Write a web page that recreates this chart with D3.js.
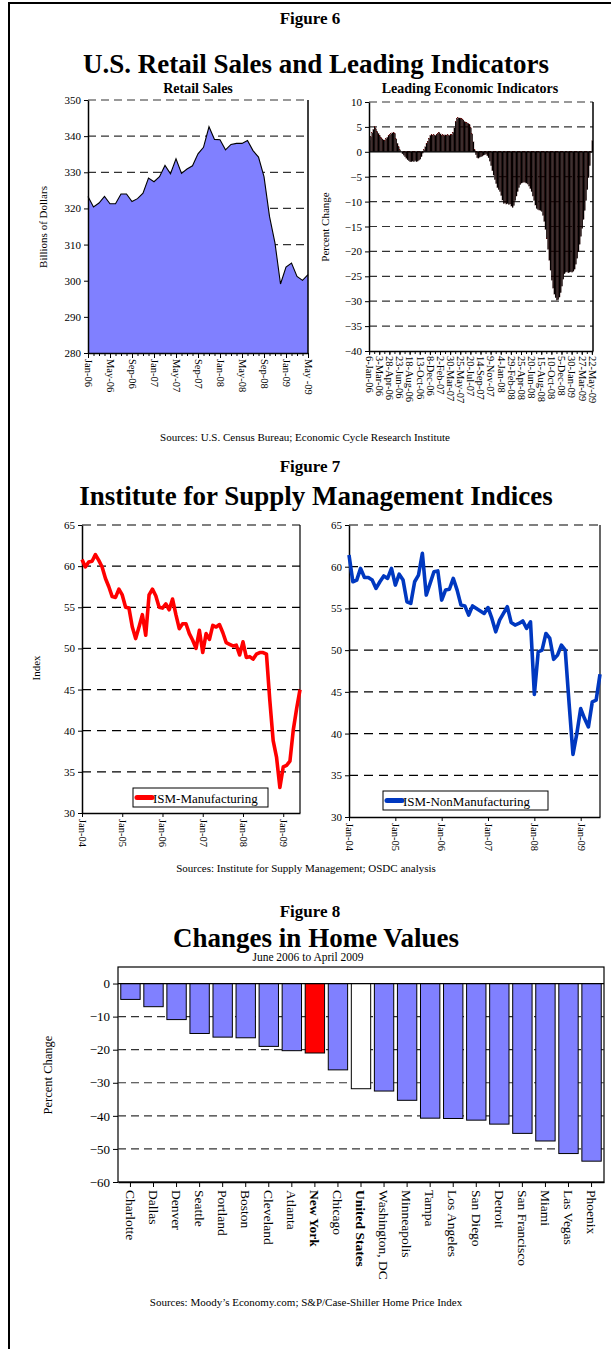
<!DOCTYPE html>
<meta charset="utf-8">
<style>
    body { margin: 0; background: #fff; }
    svg { display: block; font-family: "Liberation Serif", "Times New Roman", serif; }
    .grid line { stroke: #333; stroke-width: 1.2; stroke-dasharray: 8,5; }
    .grid7 line { stroke: #000; stroke-width: 1.2; stroke-dasharray: 9,6; }
    .axis path, .axis line { stroke: #000; }
    .axis text { fill: #000; }
</style>
<svg width="611" height="1349"></svg>
<script src="https://d3js.org/d3.v7.min.js"></script>
<script>

    // ---- Figure 6 data ----
    var retailTickLabels = ["Jan-06", "May-06", "Sep-06", "Jan-07", "May-07", "Sep-07",
        "Jan-08", "May-08", "Sep-08", "Jan-09", "May -09"];
    var retailSales = [323.3, 320.4, 321.5, 323.3, 321.3, 321.3, 324.0, 324.0, 321.9, 322.7,
        324.2, 328.4, 327.4, 328.8, 331.9, 329.6, 333.7, 329.7, 330.9, 331.8,
        335.1, 336.9, 342.6, 339.1, 339.0, 336.2, 337.7, 338.0, 338.0, 338.8,
        336.0, 334.2, 328.8, 317.8, 310.4, 299.1, 303.8, 304.9, 301.2, 300.1, 301.7];

    var leiTickLabels = ["6-Jan-06", "3-Mar-06", "28-Apr-06", "23-Jun-06", "18-Aug-06", "13-Oct-06",
        "8-Dec-06", "2-Feb-07", "30-Mar-07", "25-May-07", "20-Jul-07", "14-Sep-07", "9-Nov-07",
        "4-Jan-08", "29-Feb-08", "25-Apr-08", "20-Jun-08", "15-Aug-08", "10-Oct-08", "5-Dec-08",
        "30-Jan-09", "27-Mar-09", "22-May-09"];
    // weekly growth rate, 6-Jan-06 .. 22-May-09
    var leiValues = [2.3, 3.0, 3.8, 4.5, 5.0, 4.6, 4.1, 3.7, 3.3, 2.9, 2.6,
        2.4, 2.3, 2.6, 2.9, 3.2, 3.4, 3.6, 3.8, 3.9, 3.7,
        2.6, 1.7, 1.0, 0.4, 0.0, -0.4, -0.7, -1.0, -1.3, -1.6,
        -1.8, -2.0, -2.0, -1.9, -2.0, -1.8, -2.0, -1.9, -1.7, -1.5,
        -1.0, -0.3, 0.4, 1.0, 1.6, 2.1, 2.7, 3.3, 3.4, 3.3,
        3.4, 3.3, 3.5, 3.7, 3.9, 3.6, 3.3, 3.4, 3.3, 3.4,
        3.3, 3.4, 3.3, 3.4, 3.4, 3.9, 4.8, 6.0, 6.6, 6.8,
        6.8, 6.7, 6.6, 6.4, 6.1, 5.9, 5.8, 5.7, 5.4, 4.8,
        3.6, 2.0, 0.4, -0.6, -1.2, -1.3, -1.1, -1.0, -0.9, -0.7,
        -0.6, -0.5, -0.8, -1.2, -1.9, -2.8, -3.8, -4.7, -5.6, -6.4,
        -7.2, -7.6, -8.0, -8.8, -9.7, -10.4, -10.3, -10.5, -10.4, -10.6,
        -10.5, -10.9, -11.2, -10.8, -9.8, -8.9, -8.0, -7.2, -6.6, -6.3,
        -6.2, -6.1, -6.2, -6.3, -6.5, -6.9, -7.4, -8.0, -8.9, -9.8,
        -10.7, -11.4, -11.6, -11.7, -11.8, -12.0, -12.8, -14.0, -15.6, -17.5,
        -19.6, -21.8, -23.8, -25.8, -27.4, -28.6, -29.3, -29.8, -29.7, -29.2,
        -28.3, -27.0, -25.6, -24.5, -24.2, -24.1, -24.3, -24.2, -24.1, -24.2,
        -24.0, -23.6, -22.6, -21.4, -20.1, -18.6, -17.0, -15.4, -13.6, -11.8,
        -9.8, -7.6, -5.2, -2.8, -0.2, 2.2];

    // ---- Figure 7 data (monthly, Jan-04 .. Jun-09) ----
    var ismTickLabels = ["Jan-04", "Jan-05", "Jan-06", "Jan-07", "Jan-08", "Jan-09"];
    var ismManufacturing = [60.8, 59.9, 60.5, 60.6, 61.4, 60.7, 59.9, 58.5, 57.5, 56.3, 56.2, 57.2,
        56.5, 55.0, 54.9, 52.6, 51.2, 52.6, 54.1, 51.6, 56.5, 57.2, 56.4, 55.0,
        54.9, 55.4, 54.7, 56.0, 54.1, 52.4, 53.0, 53.0, 51.8, 51.0, 50.0, 52.2,
        49.5, 51.8, 51.1, 52.8, 52.6, 52.9, 51.9, 50.7, 50.5, 50.3, 50.4, 49.2,
        50.8, 48.9, 49.0, 48.7, 49.3, 49.5, 49.5, 49.3, 43.7, 38.8, 36.8, 33.1,
        35.6, 35.8, 36.3, 40.1, 42.7, 45.0];
    var ismNonManufacturing = [61.4, 58.2, 58.4, 59.8, 58.7, 58.7, 58.4, 57.4, 58.2, 58.9, 58.6, 59.8,
        57.8, 59.1, 58.4, 55.8, 55.6, 58.2, 59.0, 61.6, 56.6, 58.0, 59.4, 59.5,
        56.0, 57.2, 57.3, 58.6, 57.2, 55.4, 55.3, 54.2, 55.3, 55.0, 54.7, 54.4,
        55.1, 53.8, 52.2, 53.6, 54.4, 55.2, 53.3, 53.0, 53.2, 53.5, 52.6, 53.4,
        44.7, 49.8, 50.0, 52.0, 51.4, 48.9, 49.4, 50.6, 50.0, 43.6, 37.5, 40.0,
        43.0, 41.8, 40.8, 43.8, 44.0, 47.1];

    // ---- Figure 8 data ----
    var homeCities = ["Charlotte", "Dallas", "Denver", "Seattle", "Portland", "Boston", "Cleveland",
        "Atlanta", "New York", "Chicago", "United States", "Washington, DC", "Minneapolis", "Tampa",
        "Los Angeles", "San Diego", "Detroit", "San Francisco", "Miami", "Las Vegas", "Phoenix"];
    var homeChanges = [-4.8, -7.0, -10.9, -15.1, -16.2, -16.4, -19.0, -20.3, -21.0, -26.1, -31.8,
        -32.5, -35.3, -40.7, -40.8, -41.3, -42.5, -45.3, -47.6, -51.4, -53.7];


    var svg = d3.select("svg");
    var serif = "'Liberation Serif', 'Times New Roman', serif";

    function txt(x, y, s, size, weight, anchor) {
        return svg.append("text")
            .attr("x", x).attr("y", y)
            .attr("font-size", size)
            .attr("font-weight", weight || "normal")
            .attr("text-anchor", anchor || "middle")
            .text(s);
    }

    function vlabel(x, y, s, size) {
        svg.append("text")
            .attr("transform", "translate(" + x + "," + y + ") rotate(-90)")
            .attr("text-anchor", "middle")
            .attr("font-size", size)
            .text(s);
    }

    function styleAxis(g, size) {
        g.attr("font-family", serif).attr("font-size", size);
    }

    function downLabels(g, off) {
        g.selectAll("text")
            .attr("transform", "rotate(90)")
            .attr("x", off).attr("y", 0)
            .attr("dy", "0.35em")
            .style("text-anchor", "start");
    }

    // outer frame
    svg.append("rect")
        .attr("x", 9).attr("y", 3)
        .attr("width", 700).attr("height", 1400)
        .attr("fill", "none").attr("stroke", "#000").attr("stroke-width", 2);

    // =============== Figure 6 ===============
    txt(310, 24, "Figure 6", 17, "bold");
    txt(316, 73, "U.S. Retail Sales and Leading Indicators", 27, "bold");
    txt(198, 93, "Retail Sales", 14, "bold");
    txt(470, 93, "Leading Economic Indicators", 14, "bold");

    // retail sales area
    var rsX = d3.scaleLinear().domain([0, retailSales.length - 1]).range([88, 308]);
    var rsY = d3.scaleLinear().domain([280, 350]).range([353, 100]);

    svg.append("g").attr("class", "grid")
        .selectAll("line")
        .data(d3.range(290, 351, 10))
        .enter().append("line")
        .attr("x1", rsX(0)).attr("x2", rsX(40))
        .attr("y1", function(d) { return rsY(d); })
        .attr("y2", function(d) { return rsY(d); });

    svg.append("path").datum(retailSales)
        .attr("fill", "#8080ff")
        .attr("d", d3.area()
            .x(function(d, i) { return rsX(i); })
            .y0(rsY(280))
            .y1(function(d) { return rsY(d); }));

    svg.append("path").datum(retailSales)
        .attr("fill", "none").attr("stroke", "#000").attr("stroke-width", 1.1)
        .attr("d", d3.line()
            .x(function(d, i) { return rsX(i); })
            .y(function(d) { return rsY(d); }));

    svg.append("line")
        .attr("x1", rsX(40)).attr("x2", rsX(40)).attr("y1", rsY(350)).attr("y2", rsY(280))
        .attr("stroke", "#000").attr("stroke-width", 1.5);

    var ax = svg.append("g").attr("class", "axis").attr("transform", "translate(" + rsX(0) + ",0)")
        .call(d3.axisLeft(rsY).tickValues(d3.range(280, 351, 10)).tickSize(4).tickSizeOuter(0));
    styleAxis(ax, 11);
    ax.select(".domain").attr("stroke-width", 1.5);

    svg.append("g").attr("class", "axis").attr("transform", "translate(0," + rsY(280) + ")")
        .call(d3.axisBottom(rsX).tickValues(d3.range(0, 41)).tickSize(3).tickSizeOuter(0).tickFormat(""))
        .select(".domain").attr("stroke-width", 1.5);
    ax = svg.append("g").attr("class", "axis").attr("transform", "translate(0," + rsY(280) + ")")
        .call(d3.axisBottom(rsX).tickValues(d3.range(0, 41, 4)).tickSize(5)
            .tickFormat(function(d, i) { return retailTickLabels[i]; }));
    styleAxis(ax, 10.5);
    downLabels(ax, 6);
    vlabel(47, 227, "Billions of Dollars", 11);

    // leading indicators bars
    var leiX = d3.scaleBand().domain(d3.range(leiValues.length)).range([369, 593]);
    var leiY = d3.scaleLinear().domain([-40, 10]).range([351, 102]);

    svg.append("g").attr("class", "grid")
        .selectAll("line")
        .data([10, 5, -5, -10, -15, -20, -25, -30, -35])
        .enter().append("line")
        .attr("x1", 369).attr("x2", 593)
        .attr("y1", function(d) { return leiY(d); })
        .attr("y2", function(d) { return leiY(d); });

    svg.append("g").selectAll("rect")
        .data(leiValues)
        .enter().append("rect")
        .attr("x", function(d, i) { return leiX(i); })
        .attr("width", leiX.bandwidth())
        .attr("y", function(d) { return leiY(Math.max(0, d)); })
        .attr("height", function(d) { return Math.abs(leiY(d) - leiY(0)); })
        .attr("fill", "#000")
        .attr("stroke", "#5a0000")
        .attr("stroke-width", 0.12);

    svg.append("line")
        .attr("x1", 369).attr("x2", 593).attr("y1", leiY(0)).attr("y2", leiY(0))
        .attr("stroke", "#000").attr("stroke-width", 1.2);
    svg.append("line")
        .attr("x1", 593).attr("x2", 593).attr("y1", leiY(10)).attr("y2", leiY(-40))
        .attr("stroke", "#000").attr("stroke-width", 1.5);

    ax = svg.append("g").attr("class", "axis").attr("transform", "translate(369,0)")
        .call(d3.axisLeft(leiY).tickValues(d3.range(-40, 11, 5)).tickSize(4).tickSizeOuter(0));
    styleAxis(ax, 11);
    ax.select(".domain").attr("stroke-width", 1.5);

    var leiTickIdx = d3.range(0, leiValues.length, 8);
    svg.append("g").attr("class", "axis").attr("transform", "translate(0," + leiY(-40) + ")")
        .call(d3.axisBottom(leiX).tickValues(d3.range(0, leiValues.length, 4)).tickSize(3).tickSizeOuter(0).tickFormat(""))
        .select(".domain").attr("stroke-width", 1.5);
    ax = svg.append("g").attr("class", "axis").attr("transform", "translate(0," + leiY(-40) + ")")
        .call(d3.axisBottom(leiX).tickValues(leiTickIdx).tickSize(4).tickSizeOuter(0)
            .tickFormat(function(d, i) { return leiTickLabels[i]; }));
    ax.select(".domain").remove();
    styleAxis(ax, 10.5);
    downLabels(ax, 5);
    vlabel(329, 227, "Percent Change", 11);

    txt(305, 441, "Sources: U.S. Census Bureau; Economic Cycle Research Institute", 11);

    // =============== Figure 7 ===============
    txt(310, 472, "Figure 7", 17, "bold");
    txt(316, 505, "Institute for Supply Management Indices", 27, "bold");

    function ismPanel(values, color, x0, x1, y0, y1, legendName, legendBox) {
        var x = d3.scaleLinear().domain([0, values.length - 1]).range([x0, x1]);
        var y = d3.scaleLinear().domain([30, 65]).range([y1, y0]);

        svg.append("g").attr("class", "grid7")
            .selectAll("line")
            .data(d3.range(35, 66, 5))
            .enter().append("line")
            .attr("x1", x0).attr("x2", x1)
            .attr("y1", function(d) { return y(d); })
            .attr("y2", function(d) { return y(d); });

        svg.append("line")
            .attr("x1", x1).attr("x2", x1).attr("y1", y0).attr("y2", y1)
            .attr("stroke", "#000").attr("stroke-width", 1.2);

        var a = svg.append("g").attr("class", "axis").attr("transform", "translate(" + x0 + ",0)")
            .call(d3.axisLeft(y).tickValues(d3.range(30, 66, 5)).tickSize(4).tickSizeOuter(0));
        styleAxis(a, 11);
        a.select(".domain").attr("stroke-width", 1.5);

        a = svg.append("g").attr("class", "axis").attr("transform", "translate(0," + y1 + ")")
            .call(d3.axisBottom(x).tickValues(d3.range(0, values.length, 12)).tickSize(4).tickSizeOuter(0)
                .tickFormat(function(d, i) { return ismTickLabels[i]; }));
        styleAxis(a, 10.5);
        a.select(".domain").attr("stroke-width", 1.5);
        downLabels(a, 6);

        svg.append("path").datum(values)
            .attr("fill", "none")
            .attr("stroke", color)
            .attr("stroke-width", 3.6)
            .attr("stroke-linejoin", "round")
            .attr("d", d3.line()
                .x(function(d, i) { return x(i); })
                .y(function(d) { return y(d); }));

        // legend
        var lg = svg.append("g").attr("transform", "translate(" + legendBox[0] + "," + legendBox[1] + ")");
        lg.append("rect").attr("width", legendBox[2]).attr("height", 19)
            .attr("fill", "#fff").attr("stroke", "#000").attr("stroke-width", 1);
        lg.append("line").attr("x1", 4).attr("x2", 19).attr("y1", 9.5).attr("y2", 9.5)
            .attr("stroke", color).attr("stroke-width", 5).attr("stroke-linecap", "round");
        lg.append("text").attr("x", 20).attr("y", 14.5).attr("font-size", 13).text(legendName);
    }

    ismPanel(ismManufacturing, "#ff0000", 82, 300, 525, 813, "ISM-Manufacturing", [133, 788, 135]);
    ismPanel(ismNonManufacturing, "#0038c0", 349, 600, 525, 817, "ISM-NonManufacturing", [383, 791, 165]);
    vlabel(40, 668, "Index", 11);

    txt(306, 872, "Sources: Institute for Supply Management; OSDC analysis", 11);

    // =============== Figure 8 ===============
    txt(310, 917, "Figure 8", 17, "bold");
    txt(316, 947, "Changes in Home Values", 27, "bold");
    txt(308, 961, "June 2006 to April 2009", 11.5);

    var hvX = d3.scaleBand().domain(homeCities).range([118, 604]).paddingInner(0.16).paddingOuter(0.12);
    var hvY = d3.scaleLinear().domain([-60, 5]).range([1182, 967]);

    svg.append("rect")
        .attr("x", 118).attr("y", hvY(5))
        .attr("width", 604 - 118).attr("height", hvY(-60) - hvY(5))
        .attr("fill", "#fff").attr("stroke", "#000").attr("stroke-width", 1.2);

    svg.append("g").attr("class", "grid")
        .selectAll("line")
        .data([-10, -20, -30, -40, -50])
        .enter().append("line")
        .attr("x1", 118).attr("x2", 604)
        .attr("y1", function(d) { return hvY(d); })
        .attr("y2", function(d) { return hvY(d); });

    svg.append("g").selectAll("rect")
        .data(homeChanges)
        .enter().append("rect")
        .attr("x", function(d, i) { return hvX(homeCities[i]); })
        .attr("width", hvX.bandwidth())
        .attr("y", hvY(0))
        .attr("height", function(d) { return hvY(d) - hvY(0); })
        .attr("fill", function(d, i) {
            if (homeCities[i] === "New York") return "#ff0000";
            if (homeCities[i] === "United States") return "#ffffff";
            return "#8080ff";
        })
        .attr("stroke", "#000").attr("stroke-width", 1);

    svg.append("line")
        .attr("x1", 118).attr("x2", 604).attr("y1", hvY(0)).attr("y2", hvY(0))
        .attr("stroke", "#000").attr("stroke-width", 1.2);

    ax = svg.append("g").attr("class", "axis").attr("transform", "translate(118,0)")
        .call(d3.axisLeft(hvY).tickValues(d3.range(-60, 1, 10)).tickSize(5).tickSizeOuter(0));
    styleAxis(ax, 13);
    ax.select(".domain").remove();

    ax = svg.append("g").attr("class", "axis").attr("transform", "translate(0," + hvY(-60) + ")")
        .call(d3.axisBottom(hvX).tickSize(5).tickSizeOuter(0));
    styleAxis(ax, 13.5);
    ax.select(".domain").attr("stroke-width", 1.5);
    downLabels(ax, 8);
    ax.selectAll("text")
        .attr("font-weight", function(d) { return (d === "New York" || d === "United States") ? "bold" : "normal"; });

    vlabel(52, 1075, "Percent Change", 12.5);

    txt(306, 1306, "Sources: Moody\u2019s Economy.com; S&P/Case-Shiller Home Price Index", 11);

</script>
